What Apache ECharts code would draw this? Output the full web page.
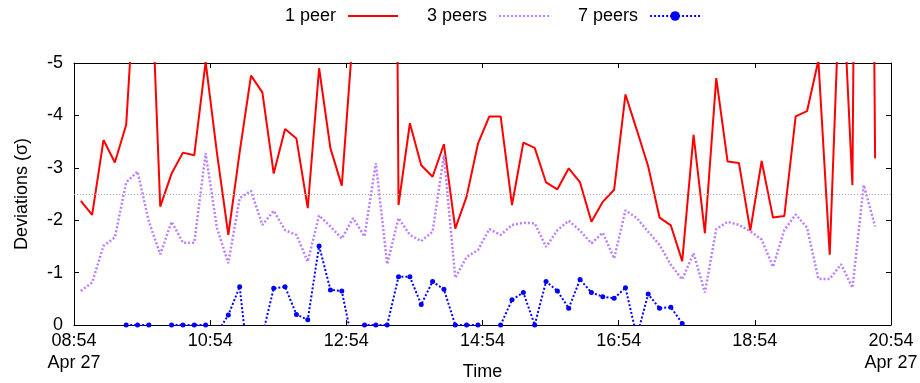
<!DOCTYPE html>
<html><head><meta charset="utf-8">
<script src="https://cdn.jsdelivr.net/npm/echarts@6/dist/echarts.min.js"></script>
<style>html,body{margin:0;padding:0;background:#fff}#c{width:920px;height:383px}</style>
</head><body><div id="c"></div>
<script>
const times = ['09:00','09:10','09:20','09:30','09:40','09:50','10:00','10:10','10:20','10:30',
'10:40','10:50','11:00','11:10','11:20','11:30','11:40','11:50','12:00','12:10',
'12:20','12:30','12:40','12:50','13:00','13:10','13:20','13:30','13:40','13:50',
'14:00','14:10','14:20','14:30','14:40','14:50','15:00','15:10','15:20','15:30',
'15:40','15:50','16:00','16:10','16:20','16:30','16:40','16:50','17:00','17:10',
'17:20','17:30','17:40','17:50','18:00','18:10','18:20','18:30','18:40','18:50',
'19:00','19:10','19:20','19:30','19:40','19:50','20:00','20:10','20:20','20:30','20:40'];
const onePeer = [-2.37,-2.10,-3.53,-3.10,-3.82,-7.4,-7.9,-2.26,-2.89,-3.29,
-3.24,-5.02,-3.28,-1.72,-3.30,-4.76,-4.44,-2.89,-3.74,-3.56,
-2.23,-4.90,-3.37,-2.66,-5.6,-10,-18,-35,-2.29,-3.85,
-3.05,-2.83,-3.45,-1.84,-2.45,-3.46,-3.98,-3.98,-2.29,-3.48,
-3.38,-2.72,-2.59,-2.99,-2.72,-1.97,-2.35,-2.58,-4.40,-3.72,
-3.03,-2.05,-1.90,-1.22,-3.63,-1.75,-4.71,-3.12,-3.09,-1.80,
-3.13,-2.05,-2.08,-3.98,-4.08,-5.05,-1.34,-7.2,-2.67,-30,-3.18];
const threePeers = [-0.65,-0.81,-1.51,-1.67,-2.72,-2.93,-1.97,-1.35,-1.97,-1.57,
-1.57,-3.28,-1.85,-1.18,-2.42,-2.56,-1.91,-2.18,-1.81,-1.72,
-1.21,-2.09,-1.88,-1.65,-2.04,-1.69,-3.09,-1.16,-2.04,-1.72,
-1.60,-1.78,-3.24,-0.90,-1.30,-1.43,-1.83,-1.72,-1.91,-1.95,
-1.94,-1.49,-1.81,-1.99,-1.80,-1.56,-1.76,-1.27,-2.19,-2.04,
-1.78,-1.53,-1.15,-0.87,-1.37,-0.62,-1.83,-1.97,-1.91,-1.79,
-1.63,-1.11,-1.81,-2.11,-1.86,-0.88,-0.88,-1.16,-0.71,-2.67,-1.88];
const sevenPeers = [null,null,null,null,0,0,0,null,0,0,
0,0,0.15,-0.19,-0.73,1.2,0.2,-0.70,-0.73,-0.20,
-0.10,-1.51,-0.67,-0.65,0.4,0,0,0,-0.92,-0.92,
-0.39,-0.83,-0.68,0,0,0,null,0,-0.48,-0.62,
0,-0.83,-0.65,-0.32,-0.87,-0.62,-0.54,-0.51,-0.71,0.22,
-0.59,-0.32,-0.34,-0.03,null,null,null,null,null,null,
null,null,null,null,null,null,null,null,null,null,null];
const xTickLabels = ['08:54\nApr 27','10:54','12:54','14:54','16:54','18:54','20:54\nApr 27'];
const startTime = '08:54';
const seriesNames = ['1 peer','3 peers','7 peers'];

const FONT = 'Liberation Sans, Arial, sans-serif';
const toMin = s => { const [h,m] = s.split(':').map(Number); return h*60+m; };
const t0 = toMin(startTime);
const xs = times.map(t => toMin(t) - t0);
const pair = arr => arr.map((v,i) => [xs[i], v]);

const chart = echarts.init(document.getElementById('c'), null, {renderer:'canvas'});
const axisCommon = {
  axisLine:{show:true, onZero:false, lineStyle:{color:'#000', width:1}},
  axisTick:{show:true, inside:true, length:5, lineStyle:{color:'#000', width:1}},
  splitLine:{show:false},
  nameMoveOverlap:false
};
chart.setOption({
  animation:false,
  backgroundColor:'#fff',
  textStyle:{fontFamily:FONT},
  legend:{
    top:2, left:280, align:'right', itemWidth:50, itemHeight:12, itemGap:28,
    textStyle:{fontSize:18, color:'#000', fontFamily:FONT, padding:[0,7,0,0]},
    data:[
      {name:seriesNames[0], itemStyle:{opacity:0, color:'transparent', borderWidth:0}},
      {name:seriesNames[1], itemStyle:{opacity:0, color:'transparent', borderWidth:0}},
      {name:seriesNames[2]}
    ]
  },
  grid:{left:74, right:29, top:63, bottom:58, containLabel:false, outerBoundsMode:'none'},
  xAxis:[
    Object.assign({type:'value', min:0, max:720, interval:120, position:'bottom',
      name:'Time', nameLocation:'middle', nameGap:38,
      nameTextStyle:{fontSize:18, color:'#000', fontFamily:FONT},
      axisLabel:{fontSize:18, color:'#000', fontFamily:FONT, margin:5, lineHeight:22,
        formatter: v => xTickLabels[Math.round(v/120)] || ''}}, axisCommon),
    Object.assign({type:'value', min:0, max:720, interval:120, position:'top',
      axisLabel:{show:false}}, axisCommon)
  ],
  yAxis:[
    Object.assign({type:'value', min:-5, max:0, interval:1, inverse:true, position:'left',
      name:'Deviations (σ)', nameLocation:'middle', nameGap:43, nameRotate:90,
      nameTextStyle:{fontSize:18, color:'#000', fontFamily:FONT},
      axisLabel:{fontSize:18, color:'#000', fontFamily:FONT, margin:11}}, axisCommon),
    Object.assign({type:'value', min:-5, max:0, interval:1, inverse:true, position:'right',
      axisLabel:{show:false}}, axisCommon)
  ],
  series:[
    {name:seriesNames[0], type:'line', data:pair(onePeer), symbol:'none', clip:true,
     lineStyle:{color:'#ff0000', width:2}, itemStyle:{color:'#ff0000'},
     markLine:{silent:true, symbol:'none', label:{show:false},
       lineStyle:{color:'#aaaaaa', type:[1,2], width:1},
       data:[{yAxis:-2.5}]}},
    {name:seriesNames[1], type:'line', data:pair(threePeers), symbol:'none', clip:true,
     lineStyle:{color:'#bb80ff', width:2.5, type:[2,2]}, itemStyle:{color:'#bb80ff'}},
    {name:seriesNames[2], type:'line', data:pair(sevenPeers), symbol:'circle', symbolSize:5,
     showSymbol:true, clip:true, connectNulls:false,
     lineStyle:{color:'#0000ff', width:2, type:[2,2]}, itemStyle:{color:'#0000ff'}}
  ]
});
</script></body></html>
